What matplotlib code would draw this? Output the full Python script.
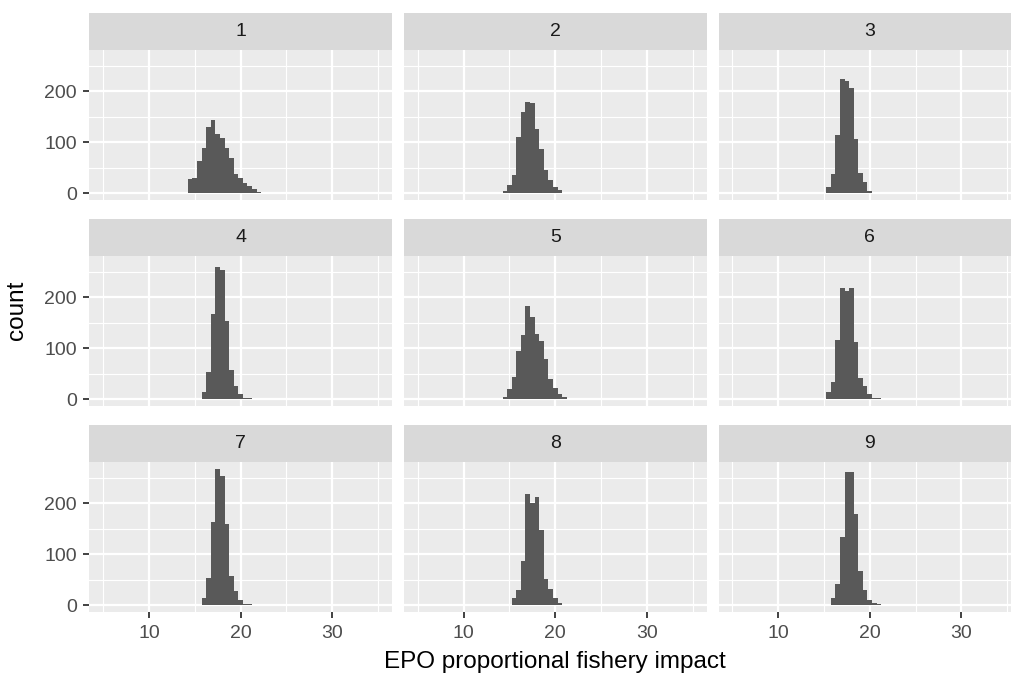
import matplotlib.pyplot as plt
import numpy as np

plt.rcParams['font.family'] = ['Liberation Sans', 'DejaVu Sans']

# histogram counts per facet, bins 0.5 wide, first value is the first bin centre
bin_width = 0.5
starts = [14.0, 14.5, 15.5, 16.0, 14.0, 15.5, 16.0, 15.5, 16.0]
counts_1 = [1, 27, 30, 63, 89, 130, 143, 116, 108, 89, 68, 37, 30, 19, 15, 8, 3, 1]
counts_2 = [5, 16, 35, 110, 158, 179, 177, 126, 87, 45, 26, 12, 6, 1]
counts_3 = [12, 37, 113, 223, 219, 205, 106, 39, 21, 5, 1, 1]
counts_4 = [14, 54, 166, 259, 252, 154, 58, 26, 10, 3, 3]
counts_5 = [1, 4, 20, 44, 94, 126, 182, 160, 128, 114, 79, 39, 21, 10, 4, 1]
counts_6 = [14, 34, 115, 217, 212, 218, 112, 41, 25, 10, 3, 2]
counts_7 = [15, 54, 162, 267, 252, 159, 57, 28, 10, 3, 3]
counts_8 = [15, 30, 86, 218, 201, 212, 147, 52, 31, 15, 4, 1]
counts_9 = [15, 41, 134, 261, 261, 179, 66, 30, 10, 5, 3]
all_counts = [counts_1, counts_2, counts_3, counts_4, counts_5,
              counts_6, counts_7, counts_8, counts_9]
facet_labels = ['1', '2', '3', '4', '5', '6', '7', '8', '9']

x_lim = (5, 35)
x_ticks = [10, 20, 30]
x_minor = [5, 15, 25, 35]
y_ticks = [0, 100, 200]
y_minor = [50, 150, 250]

W, H = 1011, 679
fig = plt.figure(figsize=(W / 100, H / 100), dpi=100)

panel_left = [89.3, 404.0, 718.5]
panel_w = 302.5
panel_top = [50, 256, 462]
panel_h = 150
strip_h = 37


def rect(x, y, w, h):
    return [x / W, 1 - (y + h) / H, w / W, h / H]


ymax = max(max(c) for c in all_counts)
xr = x_lim[1] - x_lim[0]

for i, counts in enumerate(all_counts):
    r, c = divmod(i, 3)
    ax = fig.add_axes(rect(panel_left[c], panel_top[r], panel_w, panel_h))
    ax.set_facecolor('#EBEBEB')
    for s in ax.spines.values():
        s.set_visible(False)
    for v in x_minor:
        ax.axvline(v, color='white', lw=0.8, zorder=0)
    for v in y_minor:
        ax.axhline(v, color='white', lw=0.8, zorder=0)
    for v in x_ticks:
        ax.axvline(v, color='white', lw=1.6, zorder=0.5)
    for v in y_ticks:
        ax.axhline(v, color='white', lw=1.6, zorder=0.5)

    centers = starts[i] + bin_width * np.arange(len(counts))
    ax.bar(centers, counts, width=bin_width, color='#595959', lw=0, zorder=2)

    ax.set_xlim(x_lim[0] - 0.05 * xr, x_lim[1] + 0.05 * xr)
    ax.set_ylim(-0.05 * ymax, 1.05 * ymax)
    ax.set_xticks(x_ticks)
    ax.set_yticks(y_ticks)
    ax.tick_params(colors='#333333', labelcolor='#4D4D4D', labelsize=14,
                   length=4.5, width=1.3, pad=4.5)
    if c != 0:
        ax.tick_params(axis='y', left=False, labelleft=False)
    if r != 2:
        ax.tick_params(axis='x', bottom=False, labelbottom=False)

    sax = fig.add_axes(rect(panel_left[c], panel_top[r] - strip_h, panel_w, strip_h))
    sax.set_facecolor('#D9D9D9')
    sax.set_xticks([])
    sax.set_yticks([])
    for s in sax.spines.values():
        s.set_visible(False)
    sax.text(0.5, 0.5, facet_labels[i], ha='center', va='center',
             fontsize=14, color='#1A1A1A', transform=sax.transAxes)

fig.text(555 / W, 1 - 662 / H, 'EPO proportional fishery impact',
         ha='center', va='center', fontsize=17.5, color='black')
fig.text(17 / W, 1 - 310 / H, 'count', ha='center', va='center',
         rotation=90, fontsize=17.5, color='black')

fig.savefig('out.png', dpi=100, facecolor='white')
